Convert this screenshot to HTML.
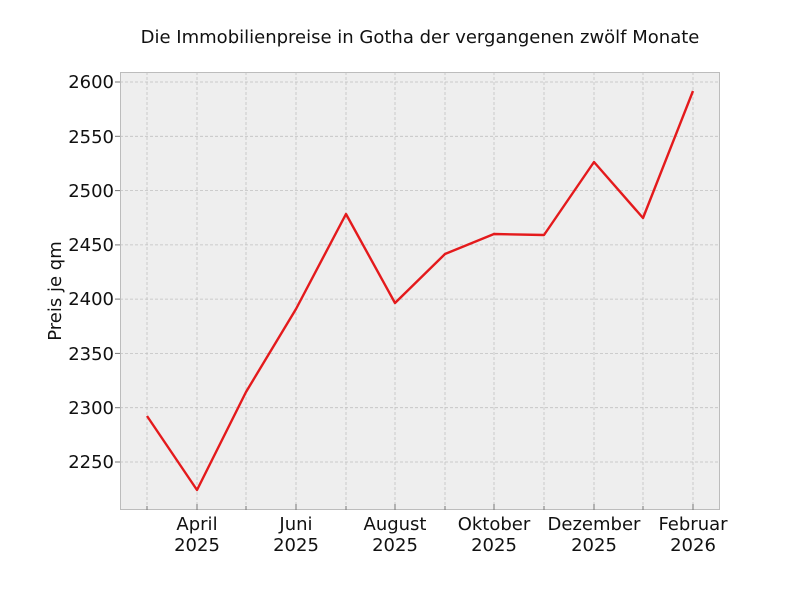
<!DOCTYPE html>
<html><head><meta charset="utf-8"><style>body{margin:0;background:#fff}</style></head><body>
<svg width="800" height="600" xmlns="http://www.w3.org/2000/svg" font-family="DejaVu Sans, Liberation Sans, sans-serif">
<rect width="800" height="600" fill="#fff"/>
<rect x="120.5" y="72.5" width="599" height="437" fill="#eeeeee"/>
<g stroke="#c0c0c0" stroke-width="0.8" stroke-dasharray="3,2">
<line x1="120" x2="720" y1="82" y2="82"/><line x1="120" x2="720" y1="136.3" y2="136.3"/>
<line x1="120" x2="720" y1="190.6" y2="190.6"/><line x1="120" x2="720" y1="244.9" y2="244.9"/>
<line x1="120" x2="720" y1="299.1" y2="299.1"/><line x1="120" x2="720" y1="353.4" y2="353.4"/>
<line x1="120" x2="720" y1="407.7" y2="407.7"/><line x1="120" x2="720" y1="462" y2="462"/>
<line y1="72" y2="510" x1="147" x2="147"/><line y1="72" y2="510" x1="197" x2="197"/>
<line y1="72" y2="510" x1="246" x2="246"/><line y1="72" y2="510" x1="296" x2="296"/>
<line y1="72" y2="510" x1="346" x2="346"/><line y1="72" y2="510" x1="395" x2="395"/>
<line y1="72" y2="510" x1="445" x2="445"/><line y1="72" y2="510" x1="494" x2="494"/>
<line y1="72" y2="510" x1="544" x2="544"/><line y1="72" y2="510" x1="594" x2="594"/>
<line y1="72" y2="510" x1="643" x2="643"/><line y1="72" y2="510" x1="693" x2="693"/>
</g>
<rect x="120.5" y="72.5" width="599" height="437" fill="none" stroke="#bcbcbc" stroke-width="1"/>
<g stroke="#777" stroke-width="1">
<line x1="115" x2="120" y1="82" y2="82"/><line x1="115" x2="120" y1="136.3" y2="136.3"/>
<line x1="115" x2="120" y1="190.6" y2="190.6"/><line x1="115" x2="120" y1="244.9" y2="244.9"/>
<line x1="115" x2="120" y1="299.1" y2="299.1"/><line x1="115" x2="120" y1="353.4" y2="353.4"/>
<line x1="115" x2="120" y1="407.7" y2="407.7"/><line x1="115" x2="120" y1="462" y2="462"/>
<line x1="147" x2="147" y1="506" y2="510"/><line x1="197" x2="197" y1="504" y2="510"/>
<line x1="246" x2="246" y1="506" y2="510"/><line x1="296" x2="296" y1="504" y2="510"/>
<line x1="346" x2="346" y1="506" y2="510"/><line x1="395" x2="395" y1="504" y2="510"/>
<line x1="445" x2="445" y1="506" y2="510"/><line x1="494" x2="494" y1="504" y2="510"/>
<line x1="544" x2="544" y1="506" y2="510"/><line x1="594" x2="594" y1="504" y2="510"/>
<line x1="643" x2="643" y1="506" y2="510"/><line x1="693" x2="693" y1="504" y2="510"/>
</g>
<polyline fill="none" stroke="#e41a1c" stroke-width="2.4" stroke-linejoin="round" points="147,416 197,490 246,392 296,309 346,214 395,303 445,254 494,234 544,235 594,162 643,218 693,91"/>
<g font-size="18" fill="#111" text-anchor="end">
<text x="114" y="88">2600</text><text x="114" y="143">2550</text><text x="114" y="197">2500</text>
<text x="114" y="251">2450</text><text x="114" y="305">2400</text><text x="114" y="360">2350</text>
<text x="114" y="414">2300</text><text x="114" y="468">2250</text>
</g>
<g font-size="18" fill="#111" text-anchor="middle">
<text x="197" y="530">April</text><text x="197" y="551">2025</text>
<text x="296" y="530">Juni</text><text x="296" y="551">2025</text>
<text x="395" y="530">August</text><text x="395" y="551">2025</text>
<text x="494" y="530">Oktober</text><text x="494" y="551">2025</text>
<text x="594" y="530">Dezember</text><text x="594" y="551">2025</text>
<text x="693" y="530">Februar</text><text x="693" y="551">2026</text>
<text x="420" y="43">Die Immobilienpreise in Gotha der vergangenen zwölf Monate</text>
<text transform="translate(61,291) rotate(-90)">Preis je qm</text>
</g>
</svg>
</body></html>
